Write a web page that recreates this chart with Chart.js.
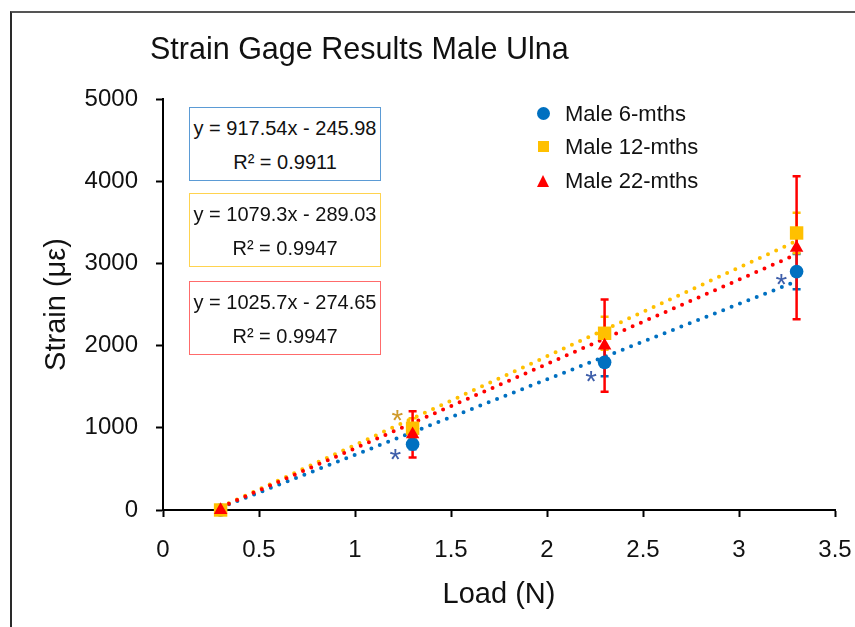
<!DOCTYPE html>
<html>
<head>
<meta charset="utf-8">
<script src="https://cdn.jsdelivr.net/npm/chart.js@4.4.1/dist/chart.umd.min.js"></script>
<style>
  html, body { margin: 0; padding: 0; background: #fff; }
  body { width: 855px; height: 627px; position: relative; overflow: hidden;
         font-family: "Liberation Sans", Arial, sans-serif; color: #111; }
  #frame { position: absolute; left: 10px; top: 11px; width: 900px; height: 700px;
           border-left: 2px solid #2a2a2a; border-top: 2px solid #555; }
  #wrap { position: absolute; left: 0; top: 0; width: 855px; height: 627px; }
  .title { position: absolute; left: 150px; top: 31px; font-size: 30.5px; white-space: nowrap; }
  .eq { position: absolute; box-sizing: border-box; border: 1.5px solid; text-align: center;
        font-size: 20px; background: #fff; padding-top: 3px; }
  .eq div { height: 34px; line-height: 34px; white-space: nowrap; }
  .leg { position: absolute; left: 536px; font-size: 22px; white-space: nowrap; }
  .leg span.mk { position: absolute; }
  .leg span.tx { position: absolute; left: 29px; top: -13px; line-height: 26px; }
</style>
</head>
<body>
<div id="frame"></div>
<div id="wrap"><canvas id="chart" width="855" height="627"></canvas></div>
<div class="title">Strain Gage Results Male Ulna</div>
<div id="eqs"></div>
<div id="legend"></div>
<script>
// ============================================
// DATA
// ============================================
const seriesNames = ['Male 6-mths', 'Male 12-mths', 'Male 22-mths'];
const loads = [0.3, 1.3, 2.3, 3.3];

const strain6 = [0, 800, 1796, 2900];
const strain12 = [0, 995, 2150, 3370];
const strain22 = [0, 920, 2000, 3190];

const err6 = [0, 60, 170, 215];
const err12 = [0, 120, 200, 245];
const err22 = [0, 280, 560, 870];

// trendline end values at x = 0.3 and x = 3.3
const trend6 = [29, 2782];
const trend12 = [35, 3273];
const trend22 = [33, 3110];

const equations = ['y = 917.54x - 245.98', 'y = 1079.3x - 289.03', 'y = 1025.7x - 274.65'];
const rSquared = ['R² = 0.9911', 'R² = 0.9947', 'R² = 0.9947'];

// significance asterisks
const star6X = [1.21, 2.23, 3.22];
const star6Y = [700, 1660, 2840];
const star12X = [1.22];
const star12Y = [1175];

const xTicks = [0, 0.5, 1, 1.5, 2, 2.5, 3, 3.5];
const yTicks = [0, 1000, 2000, 3000, 4000, 5000];

// ============================================
// STYLES
// ============================================
const BLUE = '#0070C0';
const YELLOW = '#FFC000';
const RED = '#FF0000';
const FONT = '"Liberation Sans", Arial, sans-serif';

const toPoints = (xs, ys) => xs.map((x, i) => ({ x: x, y: ys[i] }));
const trendEnds = [loads[0], loads[loads.length - 1]];

// ============================================
// PLUGINS
// ============================================
const errorBars = {
    id: 'errorBars',
    beforeDatasetDraw(chart, args) {
        // draw all error bars just before the first marker series
        if (args.index !== 0) return;
        const ctx = chart.ctx;
        const xs = chart.scales.x, ys = chart.scales.y;
        const sets = [[strain6, err6, BLUE], [strain12, err12, YELLOW], [strain22, err22, RED]];
        ctx.save();
        sets.forEach(([vals, errs, color]) => {
            ctx.strokeStyle = color;
            ctx.lineWidth = 2.5;
            loads.forEach((x, i) => {
                if (!errs[i]) return;
                const px = xs.getPixelForValue(x);
                const top = ys.getPixelForValue(vals[i] + errs[i]);
                const bot = ys.getPixelForValue(vals[i] - errs[i]);
                ctx.beginPath();
                ctx.moveTo(px, top); ctx.lineTo(px, bot);
                ctx.moveTo(px - 4, top); ctx.lineTo(px + 4, top);
                ctx.moveTo(px - 4, bot); ctx.lineTo(px + 4, bot);
                ctx.stroke();
            });
        });
        ctx.restore();
    }
};

const asterisks = {
    id: 'asterisks',
    afterDatasetsDraw(chart) {
        const ctx = chart.ctx;
        const xs = chart.scales.x, ys = chart.scales.y;
        ctx.save();
        ctx.font = '30px ' + FONT;
        ctx.textAlign = 'center';
        ctx.textBaseline = 'alphabetic';
        const draw = (sx, sy, color) => {
            ctx.fillStyle = color;
            sx.forEach((x, i) => {
                ctx.fillText('*', xs.getPixelForValue(x), ys.getPixelForValue(sy[i]) + 17);
            });
        };
        draw(star6X, star6Y, '#3F5FAA');
        draw(star12X, star12Y, '#D09A2A');
        ctx.restore();
    }
};

// ============================================
// CHART
// ============================================
const pointSet = (label, vals, color, style, radius, order) => ({
    label: label,
    data: toPoints(loads, vals),
    backgroundColor: color,
    borderColor: color,
    pointStyle: style,
    pointRadius: radius,
    pointHoverRadius: radius,
    borderWidth: 0,
    showLine: false,
    clip: false,
    order: order
});

const trendSet = (vals, color, order) => ({
    label: 'trend',
    data: toPoints(trendEnds, vals),
    borderColor: color,
    borderWidth: 4,
    borderDash: [0, 9],
    borderCapStyle: 'round',
    pointRadius: 0,
    showLine: true,
    clip: false,
    order: order
});

const axisGrid = {
    drawOnChartArea: false,
    drawTicks: true,
    tickLength: 7,
    tickWidth: 2,
    tickColor: '#000'
};

new Chart(document.getElementById('chart'), {
    type: 'scatter',
    data: {
        datasets: [
            pointSet(seriesNames[0], strain6, BLUE, 'circle', 6.8, 3),
            pointSet(seriesNames[1], strain12, YELLOW, 'rect', 9.5, 2),
            pointSet(seriesNames[2], strain22, RED, 'triangle', 7.8, 1),
            trendSet(trend6, BLUE, 6),
            trendSet(trend12, YELLOW, 5),
            trendSet(trend22, RED, 4)
        ]
    },
    options: {
        responsive: false,
        animation: false,
        events: [],
        layout: { padding: { top: 99, right: 20, bottom: 0, left: 0 } },
        plugins: {
            legend: { display: false },
            tooltip: { enabled: false },
            title: { display: false }
        },
        scales: {
            x: {
                type: 'linear',
                min: 0, max: 3.5,
                afterBuildTicks: (s) => { s.ticks = xTicks.map(v => ({ value: v })); },
                afterFit: (s) => { s.height = 117; s.paddingLeft = 0; s.paddingRight = 0; },
                border: { color: '#000', width: 2 },
                grid: axisGrid,
                ticks: { color: '#111', font: { family: FONT, size: 24 }, padding: 19, maxRotation: 0,
                         callback: (v) => String(v) },
                title: { display: true, text: 'Load (N)', color: '#111',
                         font: { family: FONT, size: 29 }, padding: { top: 0, bottom: 15 } }
            },
            y: {
                type: 'linear',
                min: 0, max: 5000,
                afterBuildTicks: (s) => { s.ticks = yTicks.map(v => ({ value: v })); },
                afterFit: (s) => { s.width = 163; s.paddingTop = 0; s.paddingBottom = 0; },
                border: { color: '#000', width: 2 },
                grid: axisGrid,
                ticks: { color: '#111', font: { family: FONT, size: 24 }, padding: 18,
                         callback: (v) => String(v) },
                title: { display: true, text: 'Strain (με)', color: '#111',
                         font: { family: FONT, size: 29 }, padding: { top: 40, bottom: 0 } }
            }
        }
    },
    plugins: [errorBars, asterisks]
});

// ============================================
// TEXT BOXES + LEGEND
// ============================================
const boxTops = [107, 193, 281];
const boxColors = ['#5B9BD5', '#FFD34F', '#FF6B6B'];
const eqs = document.getElementById('eqs');
equations.forEach((eq, i) => {
    const box = document.createElement('div');
    box.className = 'eq';
    box.style.left = '189px';
    box.style.width = '192px';
    box.style.top = boxTops[i] + 'px';
    box.style.height = '74px';
    box.style.borderColor = boxColors[i];
    box.innerHTML = `<div>${eq}</div><div>${rSquared[i]}</div>`;
    eqs.appendChild(box);
});

const legendRows = [114, 147, 181];
const markers = [
    `<span class="mk" style="left:1px;top:-7px;width:13px;height:13px;border-radius:50%;background:${BLUE}"></span>`,
    `<span class="mk" style="left:2px;top:-6px;width:11px;height:11px;background:${YELLOW}"></span>`,
    `<span class="mk" style="left:1px;top:-6px;width:0;height:0;border-left:6.5px solid transparent;border-right:6.5px solid transparent;border-bottom:12px solid ${RED}"></span>`
];
const legend = document.getElementById('legend');
seriesNames.forEach((name, i) => {
    const row = document.createElement('div');
    row.className = 'leg';
    row.style.top = legendRows[i] + 'px';
    row.innerHTML = markers[i] + `<span class="tx">${name}</span>`;
    legend.appendChild(row);
});
</script>
</body>
</html>
